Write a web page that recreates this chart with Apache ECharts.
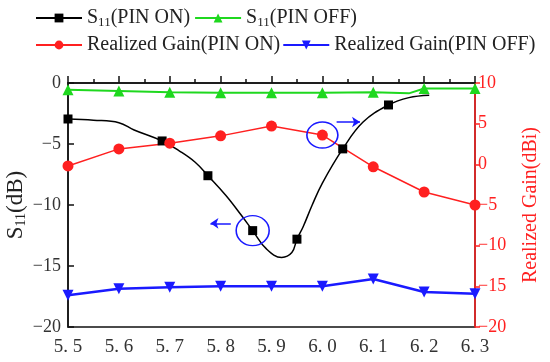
<!DOCTYPE html>
<html><head><meta charset="utf-8">
<script src="https://cdn.jsdelivr.net/npm/echarts@6/dist/echarts.min.js"></script>
<style>html,body{margin:0;padding:0;background:#fff}#c{width:550px;height:362px}</style>
</head><body><div id="c"></div>
<script>
// ---- data ----
const freqTicks = [5.5,5.6,5.7,5.8,5.9,6.0,6.1,6.2,6.3];
// S11 PIN ON curve: [freq, dB, marker?]
const s11OnFreq = [5.5,5.55,5.6,5.63,5.685,5.72,5.75,5.775,5.81,5.84,5.863,5.89,5.92,5.94,5.95,5.962,5.98,6.0,6.04,6.08,6.13,6.17,6.21];
const s11OnVal  = [-2.95,-3.05,-3.25,-3.85,-4.75,-5.6,-6.5,-7.6,-9.2,-10.8,-12.1,-13.6,-14.3,-13.9,-12.8,-11.8,-10.0,-8.2,-5.4,-3.2,-1.8,-1.2,-1.0];
const s11OnMark = [1,0,0,0,1,0,0,1,0,0,1,0,0,0,1,0,0,0,1,0,1,0,0];
const s11OffFreq = [5.5,5.6,5.7,5.8,5.9,6.0,6.1,6.17,6.2,6.3];
const s11OffVal  = [-0.55,-0.65,-0.75,-0.8,-0.8,-0.8,-0.75,-0.85,-0.45,-0.45];
const s11OffMark = [1,1,1,1,1,1,1,0,1,1];
const gainOn  = [-0.2,1.9,2.6,3.5,4.7,3.6,-0.3,-3.4,-5.0];
const gainOff = [-16.1,-15.3,-15.1,-15.0,-15.0,-15.0,-14.1,-15.7,-15.9];
// annotations
const annoLeftCircle = [5.863,-12.1];
const annoLeftArrow = [[5.82,-11.5],[5.78,-11.5]];
const annoRightCircle = [6.0,3.6];
const annoRightArrow = [[6.028,5.2],[6.074,5.2]];

const FONT = '"Liberation Serif","Times New Roman",serif';
const chart = echarts.init(document.getElementById('c'));

function pts(f, v, m) {
  return f.map((x, i) => m[i] ? {value:[x, v[i]]} : {value:[x, v[i]], symbol:'none'});
}
const rich = {a:{fontFamily:FONT,fontSize:20,color:'#222'}, s:{fontFamily:FONT,fontSize:13,color:'#222',verticalAlign:'bottom',padding:[9,0,0,0]}};

chart.setOption({
  animation:false,
  grid:{left:68,right:75,top:83,bottom:35,outerBoundsMode:'none',containLabel:false,show:true,borderColor:'#111',borderWidth:1.5,backgroundColor:'transparent'},
  legend:[
    {data:['S11(PIN ON)','S11(PIN OFF)'],left:30,top:3,itemWidth:46,itemHeight:11,itemGap:4,
     formatter:n=> n==='S11(PIN ON)'?'{a|S}{s|11}{a|(PIN ON)}':'{a|S}{s|11}{a|(PIN OFF)}',
     textStyle:{rich:rich,fontFamily:FONT,fontSize:20,color:'#222'}},
    {data:['Realized Gain(PIN ON)','Realized Gain(PIN OFF)'],left:30,top:30,itemWidth:46,itemHeight:11,itemGap:2,
     textStyle:{fontFamily:FONT,fontSize:20,color:'#222'}}
  ],
  xAxis:{type:'value',min:5.5,max:6.3,interval:0.1,
    axisLine:{lineStyle:{color:'#111',width:1.5}},
    axisTick:{inside:true,length:7,lineStyle:{color:'#111',width:1.5}},
    minorTick:{show:true,splitNumber:2,length:4,lineStyle:{color:'#111',width:1.5}},
    splitLine:{show:false},
    axisLabel:{fontFamily:FONT,fontSize:19,color:'#333',margin:11,formatter:v=>v.toFixed(1).replace('.','. ')}},
  yAxis:[
    {type:'value',min:-20,max:0,interval:5,position:'left',
     name:'{a|S}{s|11}{a|(dB)}',nameLocation:'middle',nameGap:40,nameRotate:90,nameMoveOverlap:false,
     nameTextStyle:{rich:{a:{fontFamily:FONT,fontSize:23,color:'#222'},s:{fontFamily:FONT,fontSize:14,color:'#222',padding:[11,0,0,0]}}},
     axisLine:{show:true,lineStyle:{color:'#111',width:1.5}},
     axisTick:{show:true,inside:true,length:6,lineStyle:{color:'#111',width:1.5}},
     splitLine:{show:false},
     axisLabel:{fontFamily:FONT,fontSize:18,color:'#333',margin:7,formatter:v=>String(v).replace('-','\u2212')}},
    {type:'value',min:-20,max:10,interval:5,position:'right',
     name:'Realized Gain(dBi)',nameLocation:'middle',nameGap:46,nameRotate:90,nameMoveOverlap:false,
     nameTextStyle:{fontFamily:FONT,fontSize:20,color:'#ff2020'},
     axisLine:{show:true,lineStyle:{color:'#ff2020',width:1.5}},
     axisTick:{show:true,inside:false,length:5,lineStyle:{color:'#ff2020',width:1.5}},
     splitLine:{show:false},
     axisLabel:{fontFamily:FONT,fontSize:18,color:'#ff2020',margin:3,formatter:v=>String(v).replace('-','\u2212')}}
  ],
  series:[
    {name:'S11(PIN ON)',type:'line',yAxisIndex:0,smooth:0.4,symbol:'rect',symbolSize:9,showAllSymbol:true,
     color:'#000',lineStyle:{color:'#000',width:1.5},itemStyle:{color:'#000'},
     data:pts(s11OnFreq,s11OnVal,s11OnMark),z:3,
     markPoint:{symbol:'circle',symbolSize:[33,30],silent:true,label:{show:false},
       itemStyle:{color:'rgba(0,0,0,0)',borderColor:'#1a1aff',borderWidth:1.5},
       data:[{coord:annoLeftCircle}]},
     markLine:{silent:true,symbol:['none','arrow'],symbolSize:8,label:{show:false},
       lineStyle:{color:'#1a1aff',width:1.5,type:'solid'},
       data:[[{coord:annoLeftArrow[0]},{coord:annoLeftArrow[1]}]]}},
    {name:'S11(PIN OFF)',type:'line',yAxisIndex:0,symbol:'triangle',symbolSize:11,showAllSymbol:true,
     color:'#1fd81f',lineStyle:{color:'#1fd81f',width:2},itemStyle:{color:'#1fd81f'},
     data:pts(s11OffFreq,s11OffVal,s11OffMark)},
    {name:'Realized Gain(PIN ON)',type:'line',yAxisIndex:1,symbol:'circle',symbolSize:11,
     color:'#ff2020',lineStyle:{color:'#ff2020',width:1.5},itemStyle:{color:'#ff2020'},
     data:freqTicks.map((f,i)=>[f,gainOn[i]]),
     markPoint:{symbol:'circle',symbolSize:[31,26],silent:true,label:{show:false},
       itemStyle:{color:'rgba(0,0,0,0)',borderColor:'#1a1aff',borderWidth:1.5},
       data:[{coord:annoRightCircle}]},
     markLine:{silent:true,symbol:['none','arrow'],symbolSize:8,label:{show:false},
       lineStyle:{color:'#1a1aff',width:1.5,type:'solid'},
       data:[[{coord:annoRightArrow[0]},{coord:annoRightArrow[1]}]]}},
    {name:'Realized Gain(PIN OFF)',type:'line',yAxisIndex:1,symbol:'triangle',symbolRotate:180,symbolSize:11,
     color:'#1a1aff',lineStyle:{color:'#1a1aff',width:2.5},itemStyle:{color:'#1a1aff'},
     data:freqTicks.map((f,i)=>[f,gainOff[i]])}
  ]
});
</script></body></html>
